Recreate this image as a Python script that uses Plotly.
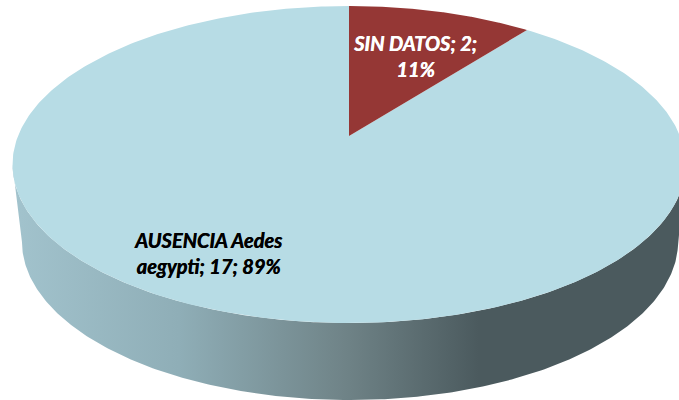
import numpy as np
import plotly.graph_objects as go

categories = ["SIN DATOS", "AUSENCIA Aedes aegypti"]
values = [2, 17]
colors = ["#953735", "#B7DCE5"]

# perspective view of the pie disc (pixel space of the picture)
CX, CY, D, A, C = 349.0, 136.0, 331.0, -128.9, 0.18
W, H = 679, 400


def project(theta):
    u, v = np.sin(theta), np.cos(theta)
    w = 1 + C * v
    return CX + D * u / w, (A * v + CY) / w


def project_bottom(theta):
    x, y = project(theta)
    return 350 + 0.975 * (x - CX), y + 77


total = sum(values)
fig = go.Figure()

# side wall: front rim of top disc + front rim of bottom disc
start = np.arccos(-C)  # silhouette points of the disc
front = np.linspace(start, 2 * np.pi - start, 300)
xt, yt = project(front)
xb, yb = project_bottom(front)
fig.add_trace(go.Scatter(
    x=np.r_[xt, xb[::-1], xt[0]], y=np.r_[yt, yb[::-1], yt[0]],
    mode="lines", line=dict(width=0), fill="toself",
    fillgradient=dict(
        type="horizontal", start=12, stop=679,
        colorscale=[[0, "#A2C3CD"], [0.25, "#8FAEB7"], [0.5, "#6F8387"],
                    [0.70, "#4B5A5E"], [1, "#4B5A5E"]],
    ),
    hoverinfo="skip", showlegend=False,
))

# top disc slices
edges = np.cumsum([0] + values) / total * 2 * np.pi
for i in [1, 0]:
    th = np.linspace(edges[i], edges[i + 1], 400)
    x, y = project(th)
    fig.add_trace(go.Scatter(
        x=np.r_[CX, x, CX], y=np.r_[CY, y, CY],
        mode="lines", line=dict(width=0), fill="toself", fillcolor=colors[i],
        name=categories[i], hoverinfo="name", showlegend=False,
    ))

pct = [round(v / total * 100) for v in values]
font_w = dict(family="Lato", size=20, color="white", weight="bold", style="italic",
              shadow="0.5px 0 0 white")
font_k = dict(family="Lato", size=20, color="black", weight="bold", style="italic",
              shadow="0.5px 0 0 black")
fig.add_annotation(x=415, y=56, text=f"{categories[0]}; {values[0]};<br>{pct[0]}%",
                   showarrow=False, font=font_w, align="center")
c1a, c1b = categories[1].rsplit(" ", 1)
fig.add_annotation(x=208, y=253, text=f"{c1a}<br>{c1b}; {values[1]}; {pct[1]}%",
                   showarrow=False, font=font_k, align="center")

fig.update_layout(
    width=W, height=H, margin=dict(l=0, r=0, t=0, b=0),
    paper_bgcolor="white", plot_bgcolor="white", showlegend=False,
    xaxis=dict(range=[0, W], visible=False, fixedrange=True),
    yaxis=dict(range=[H, 0], visible=False, fixedrange=True),
)
fig.write_html("out.html", config=dict(displayModeBar=False),
               post_script="document.body.style.margin='0';document.body.style.overflow='hidden';")
